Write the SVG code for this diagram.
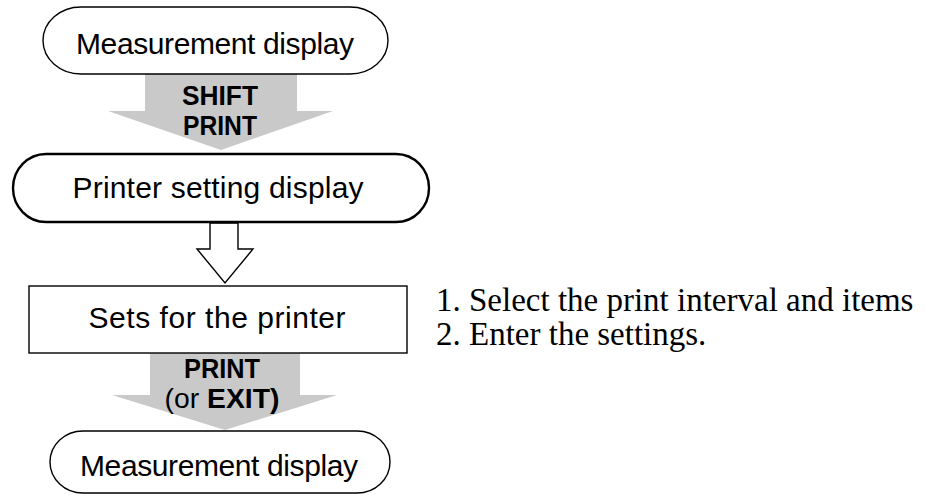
<svg xmlns="http://www.w3.org/2000/svg" width="925" height="495" viewBox="0 0 925 495">
<style>
.node{fill:#fff;stroke:#000;stroke-width:1.4}
.thick{stroke-width:2.4}
.lbl{font-family:"Liberation Sans",Arial,sans-serif;font-size:30px;fill:#000;text-anchor:middle}
.key{font-family:"Liberation Sans",Arial,sans-serif;font-size:27px;fill:#000;text-anchor:middle}
.b{font-weight:bold}
.note{font-family:"Liberation Serif","Times New Roman",serif;font-size:33px;fill:#000}
.grey{fill:#c9c9c9;stroke:none}
.hollow{fill:#fff;stroke:#000;stroke-width:1.4;stroke-linejoin:miter}
</style>
<g id="connectors">
  <polygon class="grey" points="145,74 297,74 297,111 333,111 221,150 108,111 145,111"/>
  <polygon class="hollow" points="210,223 238,223 238,249 253,249 225,283 197,249 210,249"/>
  <polygon class="grey" points="150,353 300,353 300,395 337,395 225,430 112,395 150,395"/>
  <text class="key b" x="220" y="105" textLength="76" lengthAdjust="spacingAndGlyphs">SHIFT</text>
  <text class="key b" x="220" y="135" textLength="74" lengthAdjust="spacingAndGlyphs">PRINT</text>
  <text class="key b" x="222" y="378" textLength="76" lengthAdjust="spacingAndGlyphs">PRINT</text>
  <text class="key" x="222" y="408" textLength="115" lengthAdjust="spacingAndGlyphs">(or <tspan class="b">EXIT)</tspan></text>
</g>
<g id="node-measure-top">
  <rect class="node" x="43" y="7" width="345" height="67" rx="38" ry="33.5"/>
  <text class="lbl" x="215" y="54" textLength="278" lengthAdjust="spacing">Measurement display</text>
</g>
<g id="node-printer-setting">
  <rect class="node thick" x="13" y="154" width="416" height="68" rx="33" ry="34"/>
  <text class="lbl" x="218" y="198" textLength="291" lengthAdjust="spacing">Printer setting display</text>
</g>
<g id="node-sets">
  <rect class="node" x="29" y="286" width="378" height="67"/>
  <text class="lbl" x="217" y="328" textLength="257" lengthAdjust="spacing">Sets for the printer</text>
</g>
<g id="node-measure-bottom">
  <rect class="node" x="50" y="431" width="340" height="62" rx="33" ry="31"/>
  <text class="lbl" x="219" y="476" textLength="278" lengthAdjust="spacing">Measurement display</text>
</g>
<g id="notes">
  <text class="note" x="436" y="311">1. Select the print interval and items</text>
  <text class="note" x="436" y="345">2. Enter the settings.</text>
</g>
</svg>
